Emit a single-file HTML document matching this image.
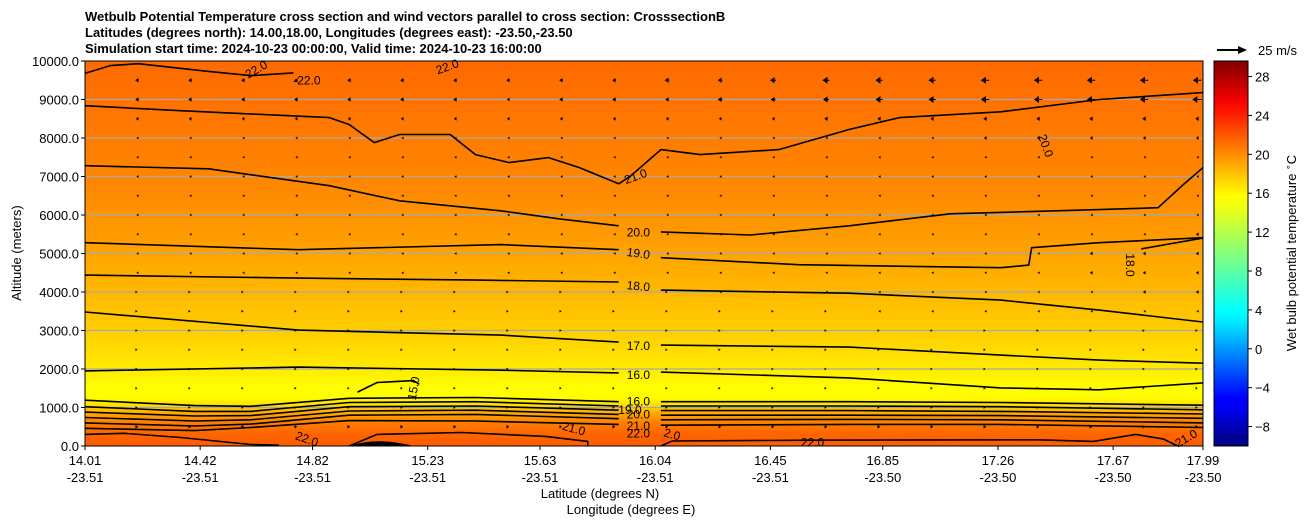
<!DOCTYPE html>
<html><head><meta charset="utf-8"><style>
body{margin:0;background:#fff;}
svg{display:block;font-family:"Liberation Sans","DejaVu Sans",sans-serif;}
</style></head><body>
<svg id="chart" width="1311" height="526" viewBox="0 0 1311 526">
<defs>
<linearGradient id="fillGrad" x1="0" y1="0" x2="0" y2="1"></linearGradient>
<linearGradient id="cbarGrad" x1="0" y1="1" x2="0" y2="0"></linearGradient>
<clipPath id="plotClip"><rect x="85" y="61" width="1118" height="385"/></clipPath>
</defs>
<g font-weight="bold" font-size="13">
<text x="85" y="21">Wetbulb Potential Temperature cross section and wind vectors parallel to cross section: CrosssectionB</text>
<text x="85" y="37">Latitudes (degrees north): 14.00,18.00, Longitudes (degrees east): -23.50,-23.50</text>
<text x="85" y="53">Simulation start time: 2024-10-23 00:00:00, Valid time: 2024-10-23 16:00:00</text>
</g>
<rect id="plotBg" x="85" y="61" width="1118" height="385" fill="url(#fillGrad)"/>
<g id="grid"></g>
<g id="contours" clip-path="url(#plotClip)"></g>
<g id="vectors" clip-path="url(#plotClip)"></g>
<g id="clabels" font-size="12" fill="#000"></g>
<rect x="85" y="61" width="1118" height="385" fill="none" stroke="#000" stroke-width="1"/>
<g id="yaxis" font-size="13" text-anchor="end"></g>
<g id="xaxis" font-size="13" text-anchor="middle"></g>
<text x="21" y="253" font-size="13" text-anchor="middle" transform="rotate(-90 21 253)">Altitude (meters)</text>
<text x="600" y="498" font-size="13" text-anchor="middle">Latitude (degrees N)</text>
<text x="631" y="514" font-size="13" text-anchor="middle">Longitude (degrees E)</text>
<rect x="1214" y="61" width="34" height="385" fill="url(#cbarGrad)" stroke="#000" stroke-width="1"/>
<g id="cbarTicks" font-size="13"></g>
<text x="1296" y="253" font-size="13" text-anchor="middle" transform="rotate(-90 1296 253)">Wet bulb potential temperature <tspan font-size="9" dy="-5">∘</tspan><tspan dy="5">C</tspan></text>
<g>
<line x1="1217" y1="50" x2="1240" y2="50" stroke="#000" stroke-width="2"/>
<polygon points="1247,50 1238,46 1238,54" fill="#000"/>
<text x="1258" y="55" font-size="13">25 m/s</text>
</g>
</svg>
<script>
// ---- data ----
const altTicks = [0,1000,2000,3000,4000,5000,6000,7000,8000,9000,10000];
const latTicks = ["14.01","14.42","14.82","15.23","15.63","16.04","16.45","16.85","17.26","17.67","17.99"];
const lonTicks = ["-23.51","-23.51","-23.51","-23.51","-23.51","-23.51","-23.51","-23.50","-23.50","-23.50","-23.50"];
const latTickVals = [14.01,14.42,14.82,15.23,15.63,16.04,16.45,16.85,17.26,17.67,17.99];
const cbarTicks = [-8,-4,0,4,8,12,16,20,24,28];
const profileAlt = [0,300,600,850,1050,1250,1500,2000,2500,3000,4300,5500,7000,9000,10000];
const profileTemp = [21.8,21.5,20.6,19.0,17.0,15.8,15.5,16.5,17.1,17.6,18.6,19.5,20.3,21.0,21.3];
const c22top = [[14.01,9680],[14.10,9880],[14.20,9930],[14.45,9730],[14.60,9620],[14.75,9690],[14.60,9620],[14.60,9620]];
const c21 = [[14.01,8840],[14.35,8710],[14.88,8530],[14.95,8350],[15.04,7880],[15.13,8090],[15.31,8090],[15.40,7570],[15.52,7360],[15.66,7490],[15.77,7230],[15.91,6810],[15.95,7000],[16.06,7700],[16.20,7570],[16.48,7700],[16.73,8220],[16.91,8530],[17.27,8680],[17.62,9000],[17.99,9180]];
const c20 = [[14.01,7280],[14.45,7200],[14.88,6760],[15.13,6370],[15.49,6110],[15.70,5900],[15.91,5720],[16.06,5560],[16.38,5480],[16.73,5720],[17.09,6030],[17.62,6140],[17.83,6190],[17.92,6790],[17.99,7230]];
const c19 = [[14.01,5280],[14.77,5100],[15.49,5230],[15.91,5100],[16.06,4890],[16.55,4710],[17.27,4630],[17.37,4700],[17.38,5150],[17.62,5280],[17.99,5410]];
const c18 = [[14.01,4440],[14.77,4360],[15.41,4310],[15.91,4260],[16.06,4050],[16.73,3970],[17.27,3790],[17.62,3530],[17.99,3220]];
const c18b = [[17.77,5120],[17.99,5400]];
const c17 = [[14.01,3480],[14.77,3010],[15.49,2880],[15.91,2700],[16.06,2620],[16.73,2570],[17.27,2360],[17.62,2230],[17.99,2150]];
const c16 = [[14.01,1950],[14.77,2050],[15.49,1970],[15.91,1900],[16.06,1920],[16.73,1770],[17.27,1510],[17.62,1460],[17.99,1640]];
const c15 = [[14.98,1400],[15.05,1650],[15.18,1700],[15.20,1600]];
const stackLats = [14.01,14.40,14.60,14.95,15.40,15.91,16.06,16.73,17.27,17.99];
const stack16 = [1190,1050,1030,1240,1260,1150,1150,1150,1130,1060];
const stack17 = [1020,900,900,1130,1150,1040,1040,1040,1020,940];
const stack18 = [880,780,790,1020,1040,930,920,920,900,830];
const stack19 = [740,650,680,910,930,820,800,800,790,720];
const stack20 = [600,520,570,800,820,710,680,690,680,600];
const stack21 = [460,400,480,660,650,560,540,560,560,480];
const c22low = [[14.01,300],[14.15,330],[14.35,220],[14.60,40],[14.70,20]];
const c22low2 = [[14.95,0],[15.05,300],[15.35,350],[15.65,250],[15.80,120],[15.80,0]];
const c22low3 = [[16.06,0],[16.10,130],[16.60,150],[17.40,160],[17.60,120],[17.75,300],[17.85,180],[17.90,0]];
const labels = [["22.0",14.62,9780,-30],["-22.0",14.80,9500,0],["22.0",15.30,9850,-20],["21.0",15.97,7000,-20],["20.0",17.43,7800,70],["20.0",15.98,5550,0],["19.0",15.98,5000,8],["18.0",15.98,4150,5],["18.0",17.73,4700,90],["17.0",15.98,2600,0],["16.0",15.98,1850,0],["15.0",15.18,1500,-80],["16.0",15.98,1150,0],["19.0",15.95,930,0],["20.0",15.98,820,0],["21.0",15.98,520,0],["22.0",15.98,320,0],["2.0",16.10,300,15],["21.0",15.75,450,15],["22.0",14.80,180,20],["22.0",16.60,90,0],["21.0",17.93,200,-30]];
const windAlts = [9500,9000,8500,8000,7500,7000,6500,6000,5500,5000,4500,4000,3500,3000,2500,2000,1500,1000,500];
const windU = [
[-3,-3,-3,-3,-3,-3,-3,-3,-3,-3,-4,-4,-5,-6,-6,-6,-7,-7,-7,-7,-7],
[-3,-3,-3,-3,-3,-3,-3,-2,-3,-3,-3,-4,-4,-5,-6,-6,-7,-7,-7,-7,-8],
[-2,-2,-2,-2,-2,-2,-2,-2,-2,-2,-2,-2,-2,-3,-3,-3,-3,-3,-3,-3,-3],
[-1,-1,-1,-1,-1,-1,-1,-1,-1,-1,-1,-1,-1,-1,-1,-1,-2,-2,-2,-2,-2],
[-1,-1,-1,-1,-1,-1,-1,-1,-1,-1,-1,-1,-1,-1,-1,-1,-1,-1,-1,-1,-1],
[-1,-1,-1,-1,-1,-1,-1,-1,-1,-1,-1,-1,-1,-1,-1,-1,-1,-1,-1,-1,-1],
[-1,-1,-1,-1,-1,-1,-1,-1,-1,-1,-1,-1,-1,-1,-1,-1,-1,-1,-1,-1,-1],
[-1,-1,-1,-1,-1,-1,-1,-1,-1,-1,-1,-1,-1,-1,-1,-1,-1,-1,-1,-1,-1],
[-1,-1,-1,-1,-1,-1,-1,-1,-1,-1,-1,-1,-1,-1,-1,-1,-1,-1,-1,-1,-2],
[-1,-1,-1,-1,-1,-1,-1,-1,-1,-1,-1,-1,-1,-1,-1,-1,-1,-1,-2,-2,-2],
[-1,-1,-1,-1,-1,-1,-1,-1,-1,-1,-1,-1,-1,-1,-1,-1,-1,-1,-2,-2,-2],
[1,1,1,1,1,1,1,1,1,1,1,-1,-1,-1,-1,-1,-1,-1,-1,-2,-2],
[1,1,1,1,1,1,1,1,1,1,1,1,1,1,-1,-1,-1,-1,-1,-1,-1],
[1,1,1,1,1,1,1,1,1,1,1,1,1,1,1,1,1,1,1,1,1],
[1,1,1,1,1,1,1,1,1,1,1,1,1,1,1,1,1,1,1,1,1],
[1,1,1,1,1,1,1,1,1,1,1,1,1,1,1,1,1,1,1,1,1],
[1,1,1,1,1,1,1,1,1,1,1,1,1,1,1,1,1,1,1,1,1],
[1,1,1,1,1,1,1,1,1,1,1,1,1,1,1,1,1,1,1,1,1],
[2,2,2,2,2,2,2,2,2,2,2,2,2,2,2,2,2,2,2,2,2]
];
const windLat0 = 14.195, windLatStep = 0.1887;

// ---- scales ----
const X0=85,X1=1203,Y0=446,Y1=61;
const latMin=14.01, latMax=17.99, altMax=10000, tMin=-10, tMax=29.6;
const xs = lat => X0 + (lat-latMin)/(latMax-latMin)*(X1-X0);
const ys = alt => Y0 - alt/altMax*(Y0-Y1);
const NS="http://www.w3.org/2000/svg";
function jet(v){
  const stops=[[0,0,0,.5],[.11,0,0,1],[.125,0,0,1],[.34,0,1,1],[.35,0,1,1],[.64,1,1,0],[.65,1,1,0],[.89,1,0,0],[1,.5,0,0]];
  v=Math.max(0,Math.min(1,v));
  for(let i=1;i<stops.length;i++){if(v<=stops[i][0]){const a=stops[i-1],b=stops[i];const t=(v-a[0])/((b[0]-a[0])||1);
    const c=[1,2,3].map(k=>Math.round(255*(a[k]+(b[k]-a[k])*t)));return `rgb(${c[0]},${c[1]},${c[2]})`;}}
  return "rgb(128,0,0)";
}
const tnorm = t => (t-tMin)/(tMax-tMin);
function el(tag,attrs,parent){const e=document.createElementNS(NS,tag);for(const k in attrs)e.setAttribute(k,attrs[k]);parent.appendChild(e);return e;}

const fg=document.getElementById('fillGrad');
for(let i=profileAlt.length-1;i>=0;i--){
  el('stop',{offset:(1-profileAlt[i]/altMax).toFixed(4),'stop-color':jet(tnorm(profileTemp[i]))},fg);
}
const cg=document.getElementById('cbarGrad');
for(let i=0;i<=40;i++){el('stop',{offset:i/40,'stop-color':jet(i/40)},cg);}

const grid=document.getElementById('grid');
altTicks.forEach(a=>{if(a>0&&a<altMax){const l=el('line',{x1:X0,x2:X1,y1:ys(a),y2:ys(a),stroke:'#a9a9a9','stroke-width':1.2},grid);
  
  }});

const cg2=document.getElementById('contours');
function drawLine(pts,name){
  const d=pts.map((p,i)=>(i?'L':'M')+xs(p[0]).toFixed(1)+' '+ys(p[1]).toFixed(1)).join(' ');
  const p=el('path',{d:d,fill:'none',stroke:'#000','stroke-width':1.6,'stroke-linejoin':'round'},cg2);
  
  
}
function splitDraw(pts,name){
  const a=pts.filter(p=>p[0]<=15.92), b=pts.filter(p=>p[0]>=16.06);
  if(a.length>1)drawLine(a,name); if(b.length>1)drawLine(b,name);
}
drawLine(c22top,'contour-22-top');
drawLine(c21,'contour-21');
splitDraw(c20,'contour-20');
splitDraw(c19,'contour-19');
splitDraw(c18,'contour-18');
drawLine(c18b,'contour-18-upper');
splitDraw(c17,'contour-17');
splitDraw(c16,'contour-16');
drawLine(c15,'contour-15');
[stack16,stack17,stack18,stack19,stack20,stack21].forEach((s,k)=>{
  splitDraw(stackLats.map((la,i)=>[la,s[i]]),'contour-low-'+(16+k));
});
drawLine(c22low,'contour-22-low');
drawLine(c22low2,'contour-22-low');
drawLine(c22low3,'contour-22-low');
const terr=el('path',{d:`M${xs(14.95)} ${ys(0)} Q${xs(15.05)} ${ys(250)} ${xs(15.18)} ${ys(0)} Z`,fill:'#000'},cg2);



const cl=document.getElementById('clabels');
labels.forEach(l=>{const x=xs(l[1]),y=ys(l[2]);
  const t=el('text',{x:x,y:y+4,'text-anchor':'middle',transform:`rotate(${l[3]} ${x} ${y})`},cl);
  t.textContent=l[0];
  
  });

const vg=document.getElementById('vectors');
windAlts.forEach((alt,r)=>{
  windU[r].forEach((u,c)=>{
    const x=xs(windLat0+c*windLatStep), y=ys(alt);
    const len=u/25*30; const dir=Math.sign(u)||1; const L=Math.abs(len);
    const hw=Math.min(3.5,1+L*0.35), hl=Math.min(5,1.5+L*0.5);
    const tip=x+len/2, tail=x-len/2;
    const g=el('g',{},vg);
    
    
    if(L>hl) el('line',{x1:tail,y1:y,x2:tip-dir*hl,y2:y,stroke:'#000','stroke-width':1},g);
    el('polygon',{points:`${tip},${y} ${tip-dir*hl},${y-hw} ${tip-dir*hl},${y+hw}`,fill:'#000'},g);
  });
});

const ya=document.getElementById('yaxis');
altTicks.forEach(a=>{const y=ys(a);
  const tk=el('line',{x1:X0-4,x2:X0,y1:y,y2:y,stroke:'#000'},ya);
  
  
  const t=el('text',{x:X0-6,y:y+5},ya);t.textContent=a.toFixed(1);
  
  });

const xa=document.getElementById('xaxis');
latTickVals.forEach((v,i)=>{const x=xs(v);
  const tk=el('line',{x1:x,x2:x,y1:Y0,y2:Y0+4,stroke:'#000'},xa);
  
  
  const t=el('text',{x:x,y:465},xa);t.textContent=latTicks[i];
  
  
  const t2=el('text',{x:x,y:482},xa);t2.textContent=lonTicks[i];
  
  });

const cb=document.getElementById('cbarTicks');
cbarTicks.forEach(v=>{const y=Y0-tnorm(v)*(Y0-Y1);
  const tk=el('line',{x1:1248,x2:1252,y1:y,y2:y,stroke:'#000'},cb);
  
  
  const t=el('text',{x:1255,y:y+5},cb);t.textContent=v<0?'\u2212'+Math.abs(v):String(v);
  
  });
</script>
</body></html>
